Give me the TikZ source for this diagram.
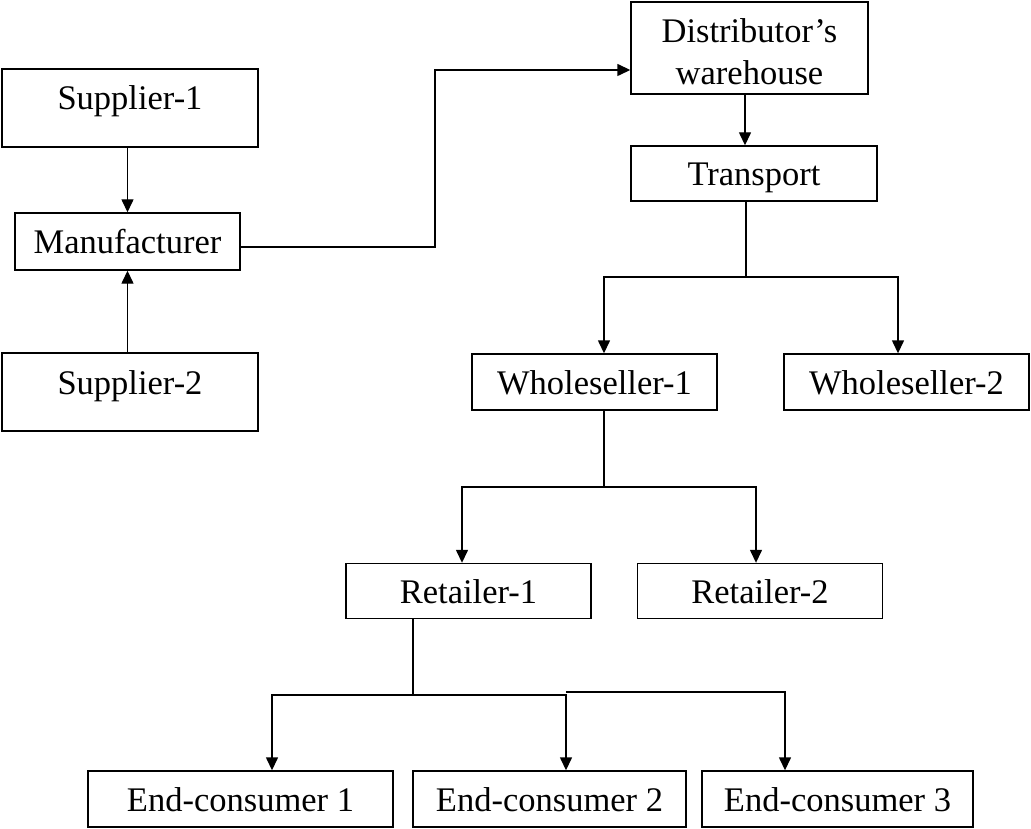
\documentclass[tikz,border=0pt]{standalone}
\usepackage{fontspec}
\setmainfont{Liberation Serif}
\usetikzlibrary{arrows.meta}
\begin{document}
\begin{tikzpicture}[x=1pt,y=-1pt,
  frame/.style={draw, line width=1.4pt, inner sep=0pt,
    font=\fontsize{34.5pt}{42pt}\selectfont},
  box/.style={frame, minimum height=56pt, text height=24pt, text depth=0pt},
  tall/.style={box, minimum height=78pt, text depth=20pt},
  conn/.style={line width=1.4pt},
  arr/.style={conn, -{Triangle[width=12pt,length=13pt]}}]
\useasboundingbox (0,0) rectangle (1031,829);

% supply side
\node[tall, minimum width=256pt] (s1) at (130,108) {Supplier-1};
\node[box, minimum width=225pt, minimum height=57pt] (man) at (127.5,241.5) {Manufacturer};
\node[tall, minimum width=256pt] (s2) at (130,392) {Supplier-2};

% distribution side
\node[frame, minimum width=237pt, minimum height=92pt, align=center] (dist) at (749.5,48) {\rule{0pt}{32pt}Distributor’s\\warehouse};
\node[box, minimum width=246pt, minimum height=55pt] (tr) at (754,173.5) {Transport};
\node[box, minimum width=245pt] (w1) at (594.5,382) {Wholeseller-1};
\node[box, minimum width=245pt] (w2) at (906.5,382) {Wholeseller-2};
\node[box, minimum width=245pt, minimum height=55pt] (r1) at (468.5,591) {Retailer-1};
\node[box, minimum width=245pt, minimum height=55pt] (r2) at (760,591) {Retailer-2};
\node[box, minimum width=305pt] (e1) at (240.5,799) {End-consumer 1};
\node[box, minimum width=273pt] (e2) at (549.5,799) {End-consumer 2};
\node[box, minimum width=271pt] (e3) at (837.5,799) {End-consumer 3};

% junction points
\coordinate (bend)  at (435,70);
\coordinate (tfork) at (746,277);
\coordinate (tl)    at (604,277);
\coordinate (trr)   at (898,277);
\coordinate (wfork) at (604,487);
\coordinate (wl)    at (462,487);
\coordinate (wr)    at (756,487);
\coordinate (rfork) at (413,695);
\coordinate (el)    at (272,695);
\coordinate (em)    at (566,695);
\coordinate (em2)   at (566,692);
\coordinate (er)    at (785,692);

% connectors
\draw[arr] (s1.south -| man.north) -- (man.north);
\draw[arr] (s2.north -| man.south) -- (man.south);
\draw[arr] ([yshift=-5.5pt]man.east) -| (bend) -- (dist.west |- bend);
\draw[arr] ([xshift=-4.5pt]dist.south) -- ([xshift=-4.5pt]dist.south |- tr.north);

\draw[conn] (tr.south -| tfork) -- (tfork);
\draw[arr] (tfork) -| (tl |- w1.north);
\draw[arr] (tfork) -| (trr |- w2.north);

\draw[conn] (w1.south -| wfork) -- (wfork);
\draw[arr] (wfork) -| (wl |- r1.north);
\draw[arr] (wfork) -| (wr |- r2.north);

\draw[conn] (r1.south -| rfork) -- (rfork);
\draw[arr] (rfork) -| (el |- e1.north);
\draw[arr] (rfork) -| (em |- e2.north);
\draw[arr] (em2) -| (er |- e3.north);
\end{tikzpicture}
\end{document}
